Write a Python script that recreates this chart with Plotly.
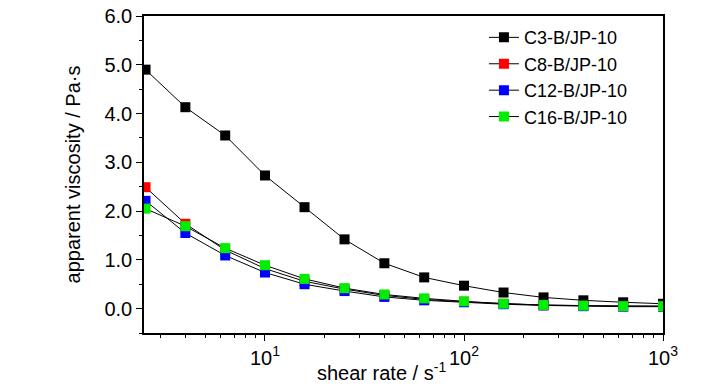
import plotly.graph_objects as go

shear_rate = [2.51, 3.98, 6.31, 10.0, 15.8, 25.1, 39.8, 63.1, 100.0, 158.0, 251.0, 398.0, 631.0, 1000.0]
c3 = [4.90, 4.13, 3.55, 2.73, 2.08, 1.42, 0.93, 0.64, 0.47, 0.33, 0.23, 0.17, 0.13, 0.10]
c8 = [2.49, 1.74, 1.20, 0.82, 0.56, 0.40, 0.27, 0.19, 0.14, 0.10, 0.07, 0.06, 0.05, 0.05]
c12 = [2.21, 1.55, 1.09, 0.74, 0.50, 0.36, 0.24, 0.17, 0.13, 0.09, 0.065, 0.05, 0.04, 0.04]
c16 = [2.05, 1.69, 1.24, 0.89, 0.61, 0.42, 0.29, 0.21, 0.15, 0.10, 0.075, 0.06, 0.05, 0.05]
names = ["C3-B/JP-10", "C8-B/JP-10", "C12-B/JP-10", "C16-B/JP-10"]
colors = ["#000000", "#ff0000", "#0000ff", "#00ee00"]
y_ticks = [0.0, 1.0, 2.0, 3.0, 4.0, 5.0, 6.0]
x_ticks = [10, 100, 1000]
x_ticktext = ["10<sup>1</sup>", "10<sup>2</sup>", "10<sup>3</sup>"]
x_minor = [3, 4, 5, 6, 7, 8, 9, 20, 30, 40, 50, 60, 70, 80, 90,
           200, 300, 400, 500, 600, 700, 800, 900]

FONT = "Liberation Sans, Arial, sans-serif"

fig = go.Figure()
for name, ys, col in zip(names, [c3, c8, c12, c16], colors):
    fig.add_trace(go.Scatter(
        x=shear_rate, y=ys, name=name, mode="lines+markers",
        line=dict(color="black", width=1),
        marker=dict(symbol="square", size=10, color=col, line=dict(width=0)),
    ))

fig.update_layout(
    width=728, height=390,
    margin=dict(l=144, r=65, t=16, b=57, autoexpand=False),
    paper_bgcolor="white", plot_bgcolor="white",
    font=dict(family=FONT, size=20, color="black"),
    showlegend=True,
    legend=dict(x=0.655, y=0.99, xanchor="left", yanchor="top",
                bgcolor="rgba(0,0,0,0)", borderwidth=0,
                font=dict(size=18)),
    xaxis=dict(
        type="log", range=[0.392, 3.0], automargin=False,
        tickmode="array", tickvals=x_ticks, ticktext=x_ticktext,
        showline=True, linecolor="black", linewidth=1.5, mirror=True,
        ticks="outside", ticklen=6, tickwidth=1, tickcolor="black",
        showgrid=False, zeroline=False,
        minor=dict(tickmode="array", tickvals=x_minor, ticks="outside",
                   ticklen=3, tickcolor="black", showgrid=False),
        tickfont=dict(size=20),
    ),
    yaxis=dict(
        range=[-0.5, 6.0], tickvals=y_ticks, tickformat=".1f", automargin=False,
        showline=True, linecolor="black", linewidth=1.5, mirror=True,
        ticks="outside", ticklen=6, tickwidth=1, tickcolor="black",
        showgrid=False, zeroline=False,
        minor=dict(dtick=0.5, ticks="outside", ticklen=3, tickcolor="black", showgrid=False),
        tickfont=dict(size=20),
        title=dict(text="apparent viscosity / Pa·s", font=dict(size=20), standoff=18),
    ),
)

fig.add_annotation(
    text="shear rate / s<sup>-1</sup>", xref="paper", yref="paper",
    x=0.458, y=-0.12, xanchor="center", yanchor="middle", showarrow=False,
    font=dict(size=20),
)

# remove the default 8px page margin so the figure sits at the window's corner
fig.write_html("out.html",
               config={"displayModeBar": False},
               post_script="document.body.style.margin='0';document.body.style.overflow='hidden';")
